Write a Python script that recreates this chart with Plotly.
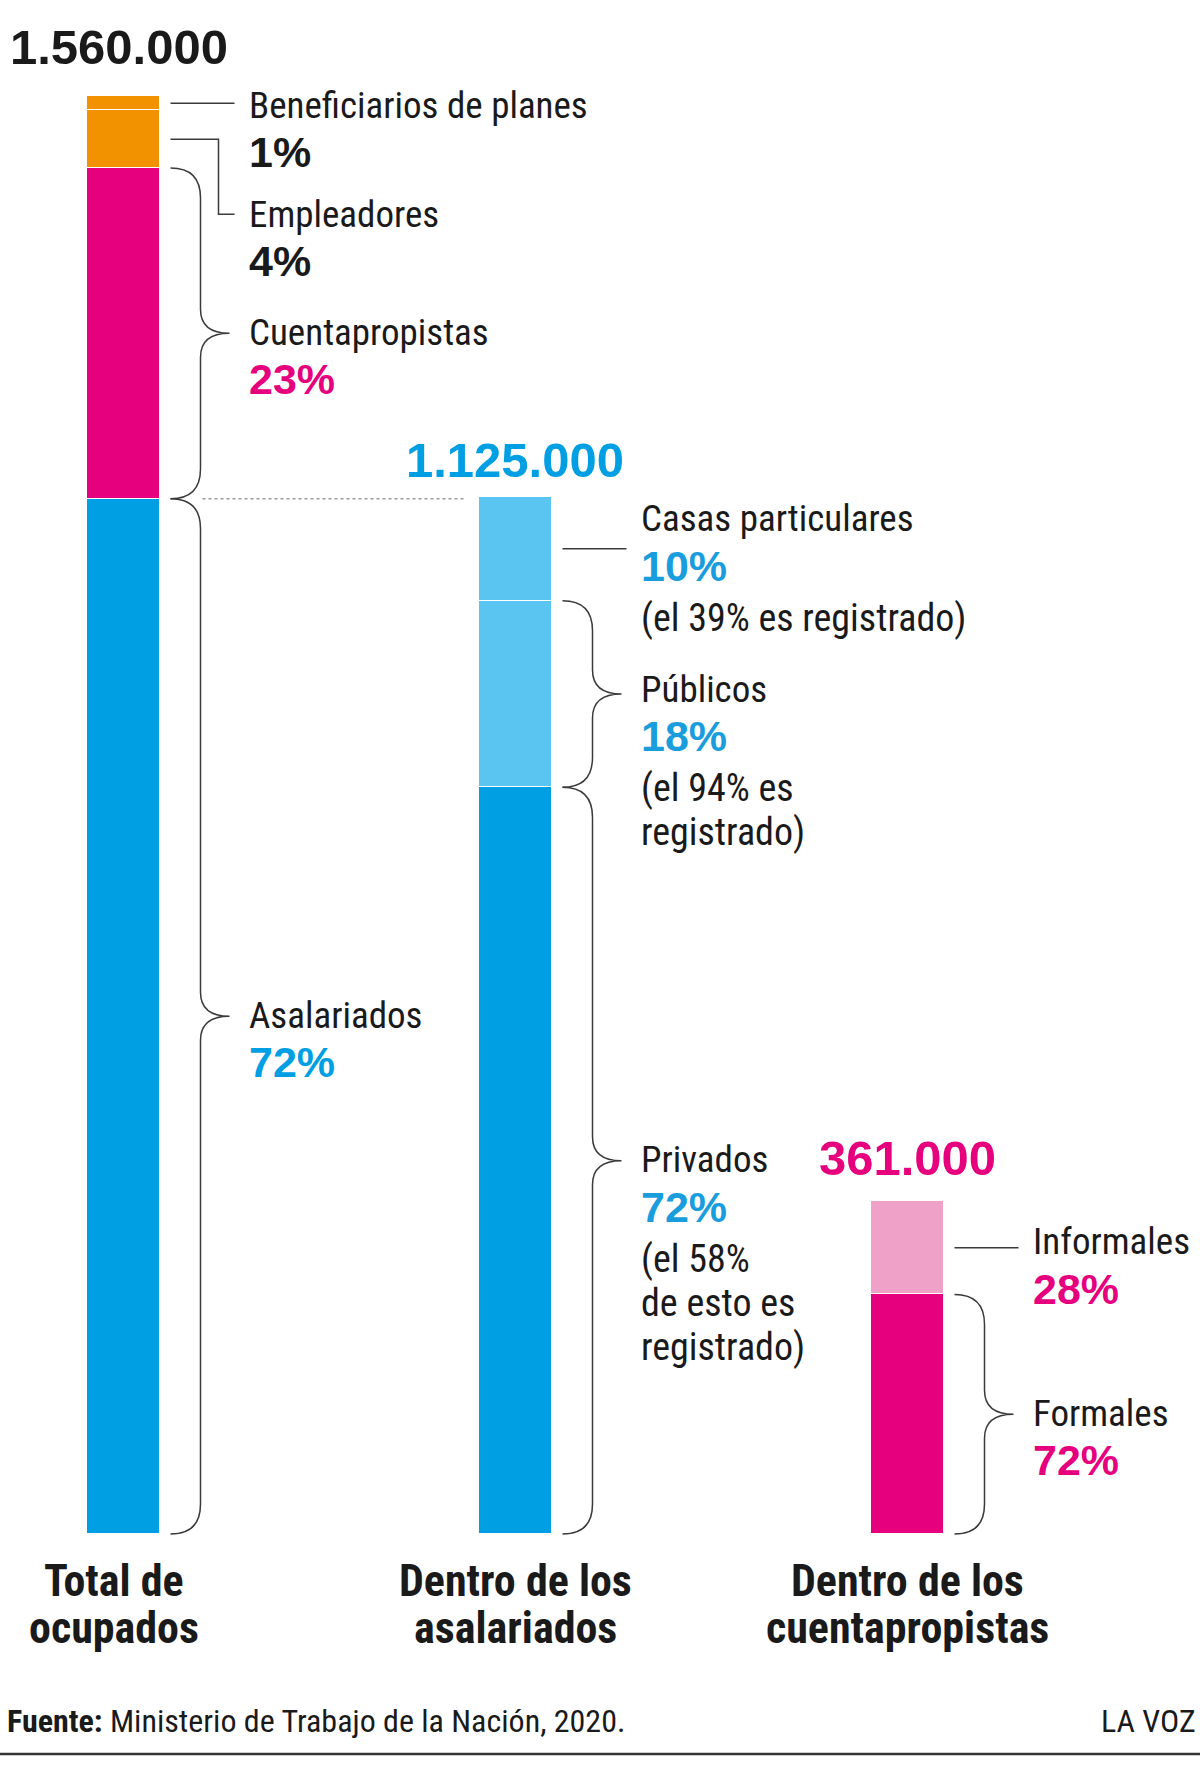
import plotly.graph_objects as go

# ---------------- DATA ----------------
categories = ["Total de ocupados", "Dentro de los asalariados", "Dentro de los cuentapropistas"]
category_lines = [["Total de", "ocupados"], ["Dentro de los", "asalariados"], ["Dentro de los", "cuentapropistas"]]
totals = [1560000, 1125000, 361000]
total_labels = ["1.560.000", "1.125.000", "361.000"]

# segments listed bottom-up
ocupados_names = ["Asalariados", "Cuentapropistas", "Empleadores", "Beneficiarios de planes"]
ocupados_pct = [72, 23, 4, 1]

asalariados_names = ["Privados", "Públicos", "Casas particulares"]
asalariados_pct = [72, 18, 10]
asalariados_notes = [["(el 58%", "de esto es", "registrado)"], ["(el 94% es", "registrado)"], ["(el 39% es registrado)"]]

cuentaprop_names = ["Formales", "Informales"]
cuentaprop_pct = [72, 28]

source_text = "Ministerio de Trabajo de la Nación, 2020."
brand_text = "LA VOZ"

# ---------------- STYLE ----------------
W, H = 1200, 1772
TOP_PX, BASE_PX = 96, 1534
CAT_PX0, CAT_STEP, BAR_W_PX = 123, 392, 73
S = (BASE_PX - TOP_PX) / totals[0]

ORANGE = "#F39200"
MAGENTA = "#E6007E"
BLUE = "#009FE3"
LBLUE = "#5BC5F2"
LPINK = "#F0A1C8"
PCT_BLUE = "#1A9DDC"
INK = "#1a1a1a"
LINEC = "#3a3a3a"

NARROW = "Roboto Condensed, Liberation Sans Narrow, DejaVu Sans Condensed, Arial Narrow, sans-serif"
BOLDF = "Liberation Sans, Arial, sans-serif"

groups = [
    dict(names=ocupados_names, pct=ocupados_pct, notes=[[], [], [], []],
         colors=[BLUE, MAGENTA, ORANGE, ORANGE],
         pctcolors=[BLUE, MAGENTA, INK, INK],
         kinds=["brace", "brace", "elbow", "line"],
         offs=[-1, -1, 75, 2]),
    dict(names=asalariados_names, pct=asalariados_pct, notes=asalariados_notes,
         colors=[BLUE, LBLUE, LBLUE],
         pctcolors=[PCT_BLUE, PCT_BLUE, PCT_BLUE],
         kinds=["brace", "brace", "line"],
         offs=[-1, -5, -30]),
    dict(names=cuentaprop_names, pct=cuentaprop_pct, notes=[[], []],
         colors=[MAGENTA, LPINK],
         pctcolors=[MAGENTA, MAGENTA],
         kinds=["brace", "line"],
         offs=[-1, -6]),
]
title_gap = [49, 37, 43]
title_xshift = [-4, 0, 0]
catlabel_xshift = [-9, 0, 0]


def ypx(v):
    return BASE_PX - v * S


def xp(px):
    return px / W


def yp(py):
    return 1 - py / H


fig = go.Figure()
shapes = []
annotations = []

for gi, g in enumerate(groups):
    cat = categories[gi]
    tot = totals[gi]
    cx = CAT_PX0 + CAT_STEP * gi
    right = cx + BAR_W_PX / 2
    x_start, x_vert, x_tip, x_text = right + 11, right + 41, right + 70, right + 87
    cum = 0
    for si, name in enumerate(g["names"]):
        val = tot * g["pct"][si] / 100
        fig.add_trace(go.Bar(
            x=[cat], y=[val], width=BAR_W_PX / CAT_STEP,
            marker=dict(color=g["colors"][si], line=dict(color="white", width=1.5)),
            hoverinfo="skip", showlegend=False))
        ybot = ypx(cum)
        ytop = ypx(cum + val)
        cum += val
        ymid = (ytop + ybot) / 2
        kind = g["kinds"][si]
        if kind == "brace":
            hgt = ybot - ytop
            r = min(30, hgt / 4)
            r2 = min(24, hgt / 4)
            pts = [
                f"M{xp(x_start)},{yp(ytop)}",
                f"Q{xp(x_vert)},{yp(ytop)} {xp(x_vert)},{yp(ytop + r)}",
                f"L{xp(x_vert)},{yp(ymid - r2)}",
                f"Q{xp(x_vert)},{yp(ymid)} {xp(x_tip)},{yp(ymid)}",
                f"Q{xp(x_vert)},{yp(ymid)} {xp(x_vert)},{yp(ymid + r2)}",
                f"L{xp(x_vert)},{yp(ybot - r)}",
                f"Q{xp(x_vert)},{yp(ybot)} {xp(x_start)},{yp(ybot)}",
            ]
            shapes.append(dict(type="path", xref="paper", yref="paper", path=" ".join(pts),
                               line=dict(color=LINEC, width=1.5)))
        elif kind == "line":
            shapes.append(dict(type="line", xref="paper", yref="paper",
                               x0=xp(x_start), x1=xp(x_text - 12), y0=yp(ymid), y1=yp(ymid),
                               line=dict(color=LINEC, width=1.5)))
        elif kind == "elbow":
            ylab = ymid + g["offs"][si]
            xe = x_text - 28
            path = (f"M{xp(x_start)},{yp(ymid)} L{xp(xe)},{yp(ymid)} "
                    f"L{xp(xe)},{yp(ylab)} L{xp(x_text - 12)},{yp(ylab)}")
            shapes.append(dict(type="path", xref="paper", yref="paper", path=path,
                               line=dict(color=LINEC, width=1.5)))
        # labels
        yl = ymid + g["offs"][si]
        annotations.append(dict(x=xp(x_text), y=yp(yl), xref="paper", yref="paper",
                                text=name, showarrow=False, xanchor="left", yanchor="middle",
                                font=dict(family=NARROW, size=37, color=INK)))
        annotations.append(dict(x=xp(x_text), y=yp(yl + 47), xref="paper", yref="paper",
                                text=f"<b>{g['pct'][si]}%</b>", showarrow=False,
                                xanchor="left", yanchor="middle",
                                font=dict(family=BOLDF, size=43, color=g["pctcolors"][si])))
        ny = yl + 47 + 52
        for line in g["notes"][si]:
            annotations.append(dict(x=xp(x_text), y=yp(ny), xref="paper", yref="paper",
                                    text=line, showarrow=False, xanchor="left", yanchor="middle",
                                    font=dict(family=NARROW, size=38, color=INK)))
            ny += 44
    # total title
    tcol = [INK, BLUE, MAGENTA][gi]
    annotations.append(dict(x=cat, y=yp(ypx(tot) - title_gap[gi]), xref="x", yref="paper",
                            text=f"<b>{total_labels[gi]}</b>", showarrow=False,
                            xanchor="center", yanchor="middle", xshift=title_xshift[gi],
                            font=dict(family=BOLDF, size=49, color=tcol)))
    # category label
    for li, line in enumerate(category_lines[gi]):
        annotations.append(dict(x=cat, y=yp(1581 + 47 * li), xref="x", yref="paper",
                                text=f"<b>{line}</b>", showarrow=False,
                                xanchor="center", yanchor="middle", xshift=catlabel_xshift[gi],
                                font=dict(family=NARROW, size=44, color=INK)))

# dotted guide from total bar to asalariados bar
y_asal = ypx(totals[0] * ocupados_pct[0] / 100)
shapes.append(dict(type="line", xref="paper", yref="paper",
                   x0=xp(CAT_PX0 + BAR_W_PX / 2 + 43), x1=xp(CAT_PX0 + CAT_STEP - BAR_W_PX / 2 - 13),
                   y0=yp(y_asal), y1=yp(y_asal),
                   line=dict(color="#9a9a9a", width=1.5, dash="dot")))

# footer
annotations.append(dict(x=xp(5), y=yp(1721), xref="paper", yref="paper",
                        text=f"<b>Fuente:</b> {source_text}", showarrow=False,
                        xanchor="left", yanchor="middle",
                        font=dict(family=NARROW, size=32, color=INK)))
annotations.append(dict(x=xp(1198), y=yp(1721), xref="paper", yref="paper",
                        text=brand_text, showarrow=False, xanchor="right", yanchor="middle",
                        font=dict(family=NARROW, size=32, color=INK)))
shapes.append(dict(type="line", xref="paper", yref="paper", x0=0, x1=1, y0=yp(1754), y1=yp(1754),
                   line=dict(color="#333333", width=2.5)))

fig.update_layout(
    width=W, height=H, margin=dict(l=0, r=0, t=0, b=0),
    paper_bgcolor="white", plot_bgcolor="white",
    barmode="stack", bargap=0,
    xaxis=dict(type="category", categoryorder="array", categoryarray=categories,
               range=[-CAT_PX0 / CAT_STEP, (W - CAT_PX0) / CAT_STEP],
               visible=False, fixedrange=True),
    yaxis=dict(range=[-(H - BASE_PX) / S, BASE_PX / S], visible=False, fixedrange=True),
    shapes=shapes, annotations=annotations,
)

fig.write_html("out.html")
